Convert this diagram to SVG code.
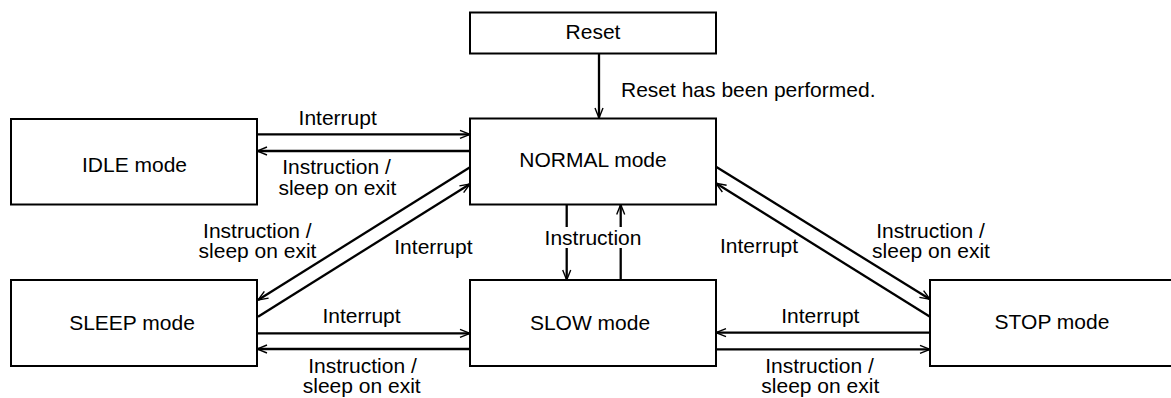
<svg xmlns="http://www.w3.org/2000/svg" width="1171" height="398" viewBox="0 0 1171 398">
<defs>
<style>
.box{fill:#fff;stroke:#000;stroke-width:2}
.t{font-family:"Liberation Sans",Arial,sans-serif;font-size:21px;fill:#000;text-anchor:middle}
.ts{font-family:"Liberation Sans",Arial,sans-serif;font-size:21px;fill:#000;text-anchor:start}
.c{fill:none;stroke:#000;stroke-width:2.3;marker-end:url(#ah)}
</style>
<marker id="ah" markerUnits="userSpaceOnUse" markerWidth="12" markerHeight="10" viewBox="0 0 12 10" refX="11" refY="5" orient="auto">
<path d="M1,1 L11,5 L1,9" fill="none" stroke="#000" stroke-width="1.4"/>
</marker>
</defs>
<rect width="1171" height="398" fill="#fff"/>
<g id="reset"><rect class="box" x="470" y="12.5" width="246" height="41"/><text class="t" x="593" y="38.5">Reset</text></g>
<g id="normal"><rect class="box" x="470" y="118.5" width="246" height="86"/><text class="t" x="593" y="166.5">NORMAL mode</text></g>
<g id="idle"><rect class="box" x="11" y="119" width="246" height="85.5"/><text class="t" x="134.5" y="172">IDLE mode</text></g>
<g id="sleep"><rect class="box" x="11" y="280" width="246" height="86"/><text class="t" x="132" y="330">SLEEP mode</text></g>
<g id="slow"><rect class="box" x="470" y="280" width="246" height="86"/><text class="t" x="590" y="330">SLOW mode</text></g>
<g id="stop"><rect class="box" x="930" y="280" width="246" height="86"/><text class="t" x="1052" y="329">STOP mode</text></g>
<g id="connectors">
<path class="c" d="M599,53.5 L599,118"/>
<path class="c" d="M257,134.3 L470,134.3"/>
<path class="c" d="M470,151 L257,151"/>
<path class="c" d="M470,167.3 L258,300"/>
<path class="c" d="M258,316.7 L470,184"/>
<path class="c" d="M716,166.7 L930,299.3"/>
<path class="c" d="M930,316.7 L716,183.3"/>
<path class="c" d="M566.7,204.5 L566.7,280"/>
<path class="c" d="M620.7,280 L620.7,204.5"/>
<path class="c" d="M257,333.3 L470,333.3"/>
<path class="c" d="M470,349 L257,349"/>
<path class="c" d="M930,332.7 L716,332.7"/>
<path class="c" d="M716,349.3 L930,349.3"/>
</g>
<g id="labels">
<text class="ts" x="621" y="96.7">Reset has been performed.</text>
<text class="t" x="337.7" y="125">Interrupt</text>
<text class="t" x="336.5" y="174">Instruction /</text>
<text class="t" x="337.4" y="195">sleep on exit</text>
<text class="t" x="257.4" y="238.3">Instruction /</text>
<text class="t" x="257.5" y="258.3">sleep on exit</text>
<text class="t" x="433.4" y="254">Interrupt</text>
<rect x="543" y="227" width="101" height="21" fill="#fff"/>
<text class="t" x="593" y="245">Instruction</text>
<text class="t" x="759" y="253.3">Interrupt</text>
<text class="t" x="930.5" y="238.3">Instruction /</text>
<text class="t" x="931" y="258.3">sleep on exit</text>
<text class="t" x="361.5" y="323.3">Interrupt</text>
<text class="t" x="362.5" y="373">Instruction /</text>
<text class="t" x="361.7" y="393.3">sleep on exit</text>
<text class="t" x="820.3" y="323.3">Interrupt</text>
<text class="t" x="819.5" y="372.7">Instruction /</text>
<text class="t" x="820.3" y="393.3">sleep on exit</text>
</g>
</svg>
